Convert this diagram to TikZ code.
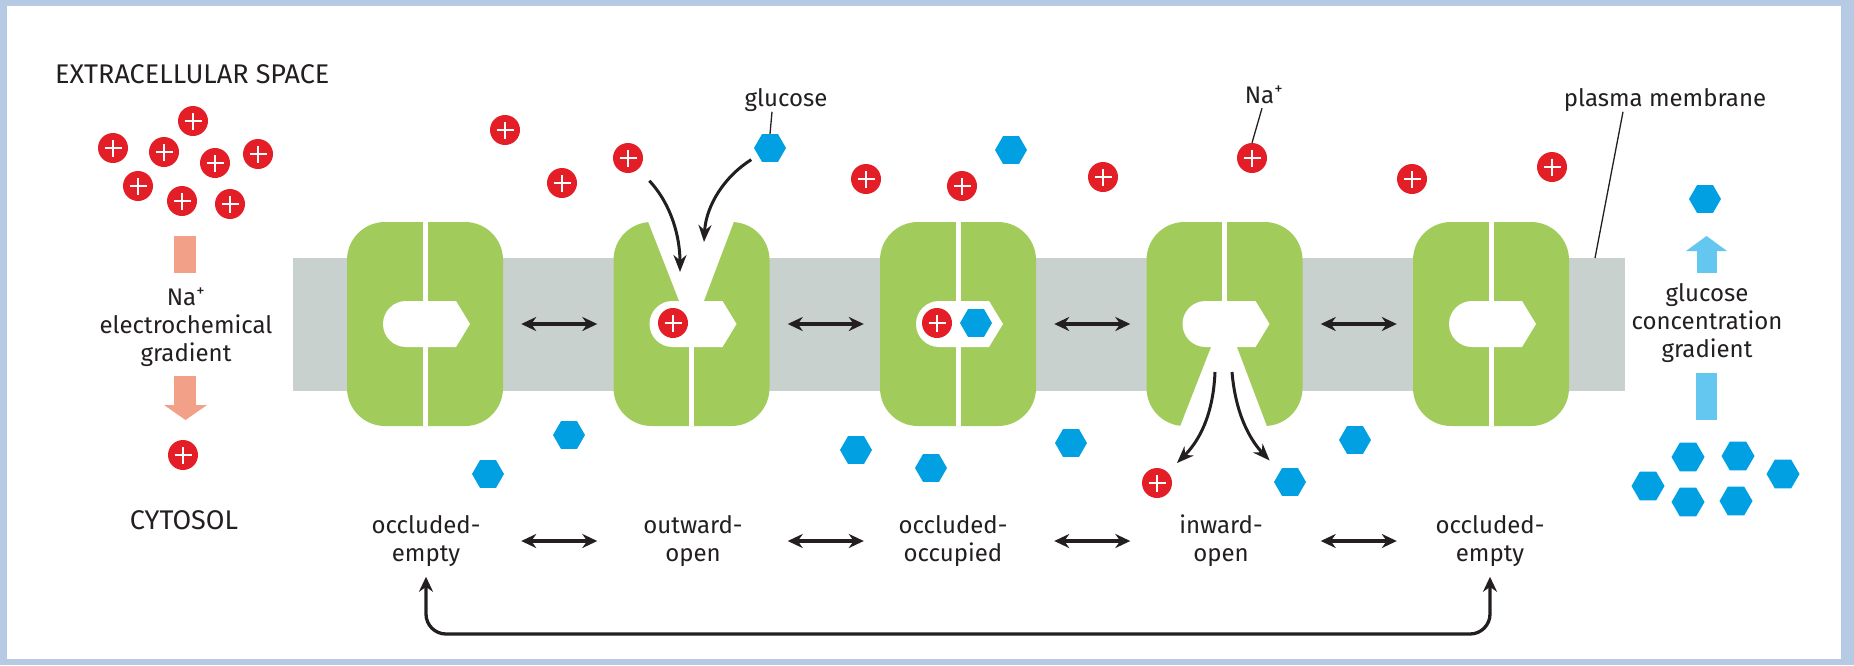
\documentclass[tikz,border=0pt]{standalone}
\usepackage{fontspec}
\setmainfont{Fira Sans}
\usetikzlibrary{arrows.meta,shapes.geometric}

\definecolor{frameblue}{RGB}{183,202,228}
\definecolor{ink}{RGB}{35,31,32}
\definecolor{nared}{RGB}{228,30,38}
\definecolor{glcblue}{RGB}{0,160,227}
\definecolor{carriergreen}{RGB}{161,204,92}
\definecolor{bilayer}{RGB}{201,209,206}
\definecolor{salmon}{RGB}{243,160,136}
\definecolor{skyblue}{RGB}{100,199,240}

\tikzset{
  na/.style={circle, fill=nared, minimum size=30pt, inner sep=0pt,
    path picture={\draw[white, line width=1.5pt]
      ([xshift=-8.5pt]path picture bounding box.center) -- ([xshift=8.5pt]path picture bounding box.center)
      ([yshift=-8.5pt]path picture bounding box.center) -- ([yshift=8.5pt]path picture bounding box.center);}},
  glc/.style={regular polygon, regular polygon sides=6, fill=glcblue, minimum size=32pt, inner sep=0pt},
  carrier/.style={rectangle, rounded corners=38pt, fill=carriergreen, minimum width=156pt, minimum height=204pt, inner sep=0pt},
  split/.style={draw=white, line width=5pt},
  swap/.style={{Stealth[length=15pt,width=14pt]}-{Stealth[length=15pt,width=14pt]}, draw=ink, line width=3.3pt},
  move/.style={-{Stealth[length=17pt,width=13pt]}, draw=ink, line width=3pt},
  leader/.style={draw=ink, line width=1.3pt},
  lbl/.style={font=\fontsize{24}{28}\selectfont, text=ink, align=center, inner sep=0pt},
  caps/.style={lbl, font=\fontsize{27}{30}\selectfont},
}

\begin{document}
\begin{tikzpicture}[x=1pt,y=-1pt]

	% frame
	\fill[frameblue] (0,0) rectangle (1854,665);
	\fill[white] (7,6) rectangle (1841,659);
	\useasboundingbox (0,0) rectangle (1854,665);

	% membrane
	\fill[bilayer] (293,258) rectangle (1625,391);

	% transporters
	\node[carrier] (t1) at (425,324) {};
	\node[carrier] (t2) at (691.5,324) {};
	\node[carrier] (t3) at (958,324) {};
	\node[carrier] (t4) at (1224.5,324) {};
	\node[carrier] (t5) at (1491,324) {};

	% subunit gap and binding pocket
	\foreach \t in {t1,t2,t3,t4,t5} {
		\draw[split] (\t.north) -- (\t.south);
		\begin{scope}[shift={(\t.center)}]
			\fill[white] (-19,0) circle[radius=23];
			\fill[white] (-19,-23) -- (31,-23) -- (45,0) -- (31,23) -- (-19,23) -- cycle;
		\end{scope}
	}

	% open gates
	\begin{scope}[shift={(t2.center)}]
		\fill[white] (-44,-104) -- (43,-104) -- (12,-22) -- (-12,-22) -- cycle;
	\end{scope}
	\begin{scope}[shift={(t4.center)}]
		\fill[white] (-13,22) -- (12,22) -- (43,104) -- (-45,104) -- cycle;
	\end{scope}

	% conformational steps
	\draw[swap, shorten <=18pt, shorten >=16pt] (t1.east) -- (t2.west);
	\draw[swap, shorten <=18pt, shorten >=16pt] (t2.east) -- (t3.west);
	\draw[swap, shorten <=18pt, shorten >=16pt] (t3.east) -- (t4.west);
	\draw[swap, shorten <=18pt, shorten >=16pt] (t4.east) -- (t5.west);

	% Na+ outside
	\foreach \x/\y [count=\i] in {193/121, 113/148, 164/152, 215/163, 258/154, 138/186, 182/201, 230/204}
		\node[na] (nx\i) at (\x,\y) {};
	\foreach \x/\y [count=\i] in {505/130, 562/183, 866/179, 962/186, 1103/177, 1412/179, 1552/167}
		\node[na] (nt\i) at (\x,\y) {};
	\node[na] (nagate) at (628,158) {};
	\node[na] (natag) at (1252,158) {};

	% glucose outside
	\node[glc] (glcgate) at (770,148) {};
	\node[glc] (glctop) at (1011,150) {};

	% bound substrates
	\node[na] (nat2) at (673,323) {};
	\node[na] (nat3) at (937,323) {};
	\node[glc] (glct3) at (976,323) {};

	% Na+ and glucose inside
	\node[na] (nalow) at (183,455) {};
	\node[na] (nafree) at (1157,483) {};
	\node[glc] (glcfree) at (1290,482) {};
	\foreach \x/\y [count=\i] in {488/474, 569/435, 856/450, 931/468, 1071/443, 1355/440}
		\node[glc] (gc\i) at (\x,\y) {};
	\node[glc] (glchigh) at (1705,199) {};
	\foreach \x/\y [count=\i] in {1688/457, 1738/456, 1783/474, 1648/486, 1688/502, 1736/501}
		\node[glc, minimum size=33pt] (gr\i) at (\x,\y) {};

	% binding and release
	\coordinate (gatena) at (680,272);
	\coordinate (gateglc) at (704,242);
	\coordinate (exitna) at (1215,372);
	\coordinate (exitglc) at (1232,372);
	\draw[move, shorten <=16pt] (nagate) .. controls (672,205) and (680,238) .. (gatena);
	\draw[move, shorten <=8pt] (glcgate) .. controls (725,176) and (706,205) .. (gateglc);
	\draw[move, shorten >=13pt] (exitna) .. controls (1213,420) and (1196,444) .. (nafree);
	\draw[move, shorten >=15pt] (exitglc) .. controls (1236,420) and (1254,444) .. (glcfree);

	% gradients
	\fill[salmon] (174,236) rectangle (196,273);
	\fill[salmon] (174,376) rectangle (196,406);
	\fill[salmon] (164,405) -- (207,405) -- (185.5,420) -- cycle;
	\fill[skyblue] (1686,251) -- (1706.5,236) -- (1727,251) -- cycle;
	\fill[skyblue] (1697,250) rectangle (1717,273);
	\fill[skyblue] (1696,373) rectangle (1717,420);

	% labels
	\node[caps, anchor=west] (extra) at (55,74) {EXTRACELLULAR SPACE};
	\node[lbl] (nagrad) at (186,327) {Na\textsuperscript{+}\\electrochemical\\gradient};
	\node[caps] (cyto) at (184,520) {CYTOSOL};
	\node[lbl] (glclabel) at (786,100) {glucose};
	\node[lbl] (nalabel) at (1264,95) {Na\textsuperscript{+}};
	\node[lbl] (pmlabel) at (1665,100) {plasma membrane};
	\node[lbl] (glcgrad) at (1707,323) {glucose\\concentration\\gradient};

	% leaders
	\coordinate (pmfoot) at (1595,258);
	\draw[leader] ([xshift=-14pt]glclabel.south) -- (glcgate.north);
	\draw[leader] ([xshift=-2pt,yshift=-4pt]nalabel.south) -- (natag.north);
	\draw[leader] ([xshift=-42pt]pmlabel.south) -- (pmfoot);

	% states
	\node[lbl] (s1) at (426,541) {occluded-\\empty};
	\node[lbl] (s2) at (693,541) {outward-\\open};
	\node[lbl] (s3) at (953,541) {occluded-\\occupied};
	\node[lbl] (s4) at (1221,541) {inward-\\open};
	\node[lbl] (s5) at (1490,541) {occluded-\\empty};
	\draw[swap, shorten <=18pt, shorten >=16pt] (t1.east |- s1) -- (t2.west |- s1);
	\draw[swap, shorten <=18pt, shorten >=16pt] (t2.east |- s1) -- (t3.west |- s1);
	\draw[swap, shorten <=18pt, shorten >=16pt] (t3.east |- s1) -- (t4.west |- s1);
	\draw[swap, shorten <=18pt, shorten >=16pt] (t4.east |- s1) -- (t5.west |- s1);

	% cycle back
	\coordinate (loopy) at (0,634);
	\draw[swap, rounded corners=20pt, shorten <=10pt, shorten >=10pt] (s1.south) -- (s1.south |- loopy) -| (s5.south);

\end{tikzpicture}
\end{document}
